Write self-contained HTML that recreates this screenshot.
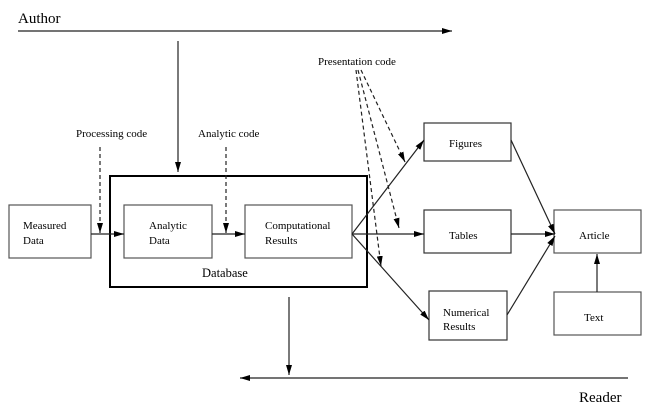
<!DOCTYPE html>
<html><head><style>html,body{margin:0;padding:0;background:#fff}svg{display:block}</style></head><body>
<svg width="652" height="420" viewBox="0 0 652 420" xmlns="http://www.w3.org/2000/svg" font-family="'Liberation Serif',serif" fill="#000">
<defs>
<marker id="a" markerWidth="10" markerHeight="6" refX="10" refY="3" orient="auto" markerUnits="userSpaceOnUse"><path d="M0,0 L10,3 L0,6 Z" fill="#000"/></marker>
</defs>
<g stroke="#222" stroke-width="1.2" fill="none">
<line x1="18" y1="31" x2="452" y2="31" marker-end="url(#a)"/>
<line x1="178" y1="41" x2="178" y2="172" marker-end="url(#a)"/>
<line x1="289" y1="297" x2="289" y2="375" marker-end="url(#a)"/>
<line x1="628" y1="378" x2="240" y2="378" marker-end="url(#a)"/>
<rect x="110" y="176" width="257" height="111" stroke="#000" stroke-width="2"/>
<rect x="9" y="205" width="82" height="53" stroke="#555"/>
<rect x="124" y="205" width="88" height="53" stroke="#555"/>
<rect x="245" y="205" width="107" height="53" stroke="#555"/>
<rect x="424" y="123" width="87" height="38" stroke="#333"/>
<rect x="424" y="210" width="87" height="43" stroke="#333"/>
<rect x="429" y="291" width="78" height="49" stroke="#333"/>
<rect x="554" y="210" width="87" height="43" stroke="#555"/>
<rect x="554" y="292" width="87" height="43" stroke="#555"/>
<line x1="91" y1="234" x2="124" y2="234" marker-end="url(#a)"/>
<line x1="212" y1="234" x2="245" y2="234" marker-end="url(#a)"/>
<line x1="352" y1="234" x2="424" y2="140" marker-end="url(#a)"/>
<line x1="352" y1="234" x2="424" y2="234" marker-end="url(#a)"/>
<line x1="352" y1="234" x2="429" y2="320" marker-end="url(#a)"/>
<line x1="511" y1="140" x2="555" y2="234" marker-end="url(#a)"/>
<line x1="511" y1="234" x2="555" y2="234" marker-end="url(#a)"/>
<line x1="507" y1="315" x2="555" y2="236" marker-end="url(#a)"/>
<line x1="597" y1="292" x2="597" y2="254" marker-end="url(#a)"/>
<g stroke-dasharray="4,3">
<line x1="100" y1="147" x2="100" y2="233" marker-end="url(#a)"/>
<line x1="226" y1="147" x2="226" y2="233" marker-end="url(#a)"/>
<line x1="361" y1="70" x2="405" y2="162" marker-end="url(#a)"/>
<line x1="358" y1="70" x2="399" y2="228" marker-end="url(#a)"/>
<line x1="356" y1="70" x2="381" y2="266" marker-end="url(#a)"/>
</g>
</g>
<g font-size="15"><text x="18" y="23">Author</text><text x="579" y="402">Reader</text></g>
<g font-size="11">
<text x="76" y="137">Processing code</text>
<text x="198" y="137">Analytic code</text>
<text x="318" y="65">Presentation code</text>
<text x="23" y="229">Measured</text><text x="23" y="244">Data</text>
<text x="149" y="229">Analytic</text><text x="149" y="244">Data</text>
<text x="265" y="229">Computational</text><text x="265" y="244">Results</text>
<text x="449" y="147">Figures</text>
<text x="449" y="239">Tables</text>
<text x="443" y="316">Numerical</text><text x="443" y="330">Results</text>
<text x="579" y="239">Article</text>
<text x="584" y="321">Text</text>
</g>
<text x="202" y="277" font-size="12.5">Database</text>
</svg>
</body></html>
